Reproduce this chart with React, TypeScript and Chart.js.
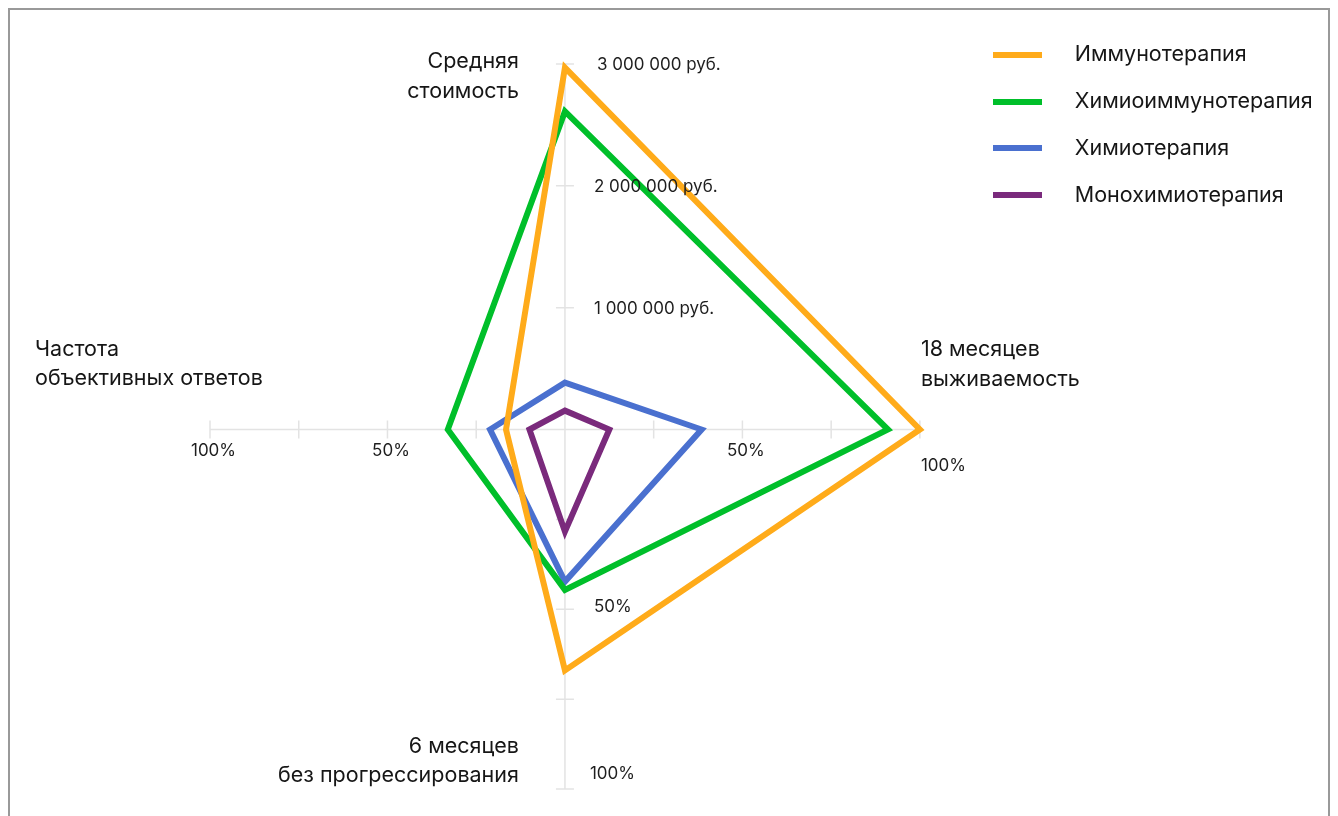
import React, { useEffect, useRef } from "react";
import { Chart, registerables } from "chart.js";

Chart.register(...registerables);

// ---------- data ----------
const seriesNames = ["Иммунотерапия", "Химиоиммунотерапия", "Химиотерапия", "Монохимиотерапия"];
const seriesColors = ["#FFAB1A", "#00BF2A", "#4A70CF", "#7A2A7C"];
const avgCostRub = [2970000, 2610000, 385000, 155000];
const survival18m = [100, 91, 38.5, 12.5];
const pfs6m = [67, 44.6, 42.3, 28.4];
const objectiveResponse = [16.6, 33, 21.1, 10];

const titleCost = ["Средняя", "стоимость"];
const titleSurvival = ["18 месяцев", "выживаемость"];
const titlePfs = ["6 месяцев", "без прогрессирования"];
const titleOrr = ["Частота", "объективных ответов"];

const percentTicks = [25, 50, 75, 100];
const percentTickLabels = ["", "50%", "", "100%"];
const costTicks = [1000000, 2000000, 3000000];
const costTickLabels = ["1 000 000 руб.", "2 000 000 руб.", "3 000 000 руб."];

const RUB_PER_UNIT = 29500;
const FONT = "Inter, 'Noto Sans', sans-serif";
const TITLE_SIZE = 21.5;
const TICK_SIZE = 17;

const decorPlugin = {
  id: "decor",
  afterDatasetsUpdate(chart: any) {
    chart.getSortedVisibleDatasetMetas().forEach((m: any) => {
      const l = m.dataset;
      if (l) {
        l._loop = true;
        l._fullLoop = true;
        delete l._segments;
        delete l._path;
      }
    });
  },
  beforeDatasetsDraw(chart: any) {
    const { ctx } = chart;
    const x = chart.scales.x;
    const y = chart.scales.y;
    const x0 = x.getPixelForValue(0);
    const y0 = y.getPixelForValue(0);
    const topV = costTicks[costTicks.length - 1] / RUB_PER_UNIT;
    ctx.save();
    ctx.strokeStyle = "#e3e3e3";
    ctx.lineWidth = 1.5;
    ctx.beginPath();
    ctx.moveTo(x.getPixelForValue(-100), y0);
    ctx.lineTo(x.getPixelForValue(100), y0);
    ctx.moveTo(x0, y.getPixelForValue(-100));
    ctx.lineTo(x0, y.getPixelForValue(topV));
    percentTicks.forEach((v) => {
      [v, -v].forEach((xv) => {
        const px = x.getPixelForValue(xv);
        ctx.moveTo(px, y0 - 9);
        ctx.lineTo(px, y0 + 9);
      });
      const py = y.getPixelForValue(-v);
      ctx.moveTo(x0 - 9, py);
      ctx.lineTo(x0 + 9, py);
    });
    costTicks.forEach((c) => {
      const py = y.getPixelForValue(c / RUB_PER_UNIT);
      ctx.moveTo(x0 - 9, py);
      ctx.lineTo(x0 + 9, py);
    });
    ctx.stroke();
    ctx.restore();
  },
  afterDatasetsDraw(chart: any) {
    const { ctx } = chart;
    const x = chart.scales.x;
    const y = chart.scales.y;
    const x0 = x.getPixelForValue(0);
    const y0 = y.getPixelForValue(0);
    const topV = costTicks[costTicks.length - 1] / RUB_PER_UNIT;
    ctx.save();
    // tick labels
    ctx.fillStyle = "#1e1e1e";
    ctx.font = `${TICK_SIZE}px ${FONT}`;
    ctx.textBaseline = "middle";
    percentTicks.forEach((v, i) => {
      const lab = percentTickLabels[i];
      if (!lab) return;
      ctx.textAlign = "center";
      ctx.fillText(lab, x.getPixelForValue(-v) + 3.5, y0 + 21);
      if (v === 100) {
        ctx.textAlign = "left";
        ctx.fillText(lab, x.getPixelForValue(v) + 1, y0 + 36);
      } else {
        ctx.textAlign = "center";
        ctx.fillText(lab, x.getPixelForValue(v) + 3.5, y0 + 21);
      }
      ctx.textAlign = "left";
      const py = y.getPixelForValue(-v);
      if (v === 100) ctx.fillText(lab, x0 + 25, py - 15);
      else ctx.fillText(lab, x0 + 29, py - 2);
    });
    costTicks.forEach((c, i) => {
      const py = y.getPixelForValue(c / RUB_PER_UNIT);
      ctx.textAlign = "left";
      ctx.fillText(costTickLabels[i], x0 + (i === costTicks.length - 1 ? 32 : 29), py + 1);
    });

    // axis titles
    ctx.fillStyle = "#161616";
    ctx.font = `${TITLE_SIZE}px ${FONT}`;
    const yTop = y.getPixelForValue(topV);
    const yBot = y.getPixelForValue(-100);
    const xR = x.getPixelForValue(100);
    const xL = x.getPixelForValue(-100);
    ctx.textAlign = "right";
    ctx.fillText(titleCost[0], x0 - 46, yTop - 2);
    ctx.fillText(titleCost[1], x0 - 46, yTop + 28);
    ctx.fillText(titlePfs[0], x0 - 46, yBot - 42);
    ctx.fillText(titlePfs[1], x0 - 46, yBot - 13);
    ctx.textAlign = "left";
    ctx.fillText(titleSurvival[0], xR + 1, y0 - 80);
    ctx.fillText(titleSurvival[1], xR + 1, y0 - 50);
    ctx.fillText(titleOrr[0], xL - 175, y0 - 80);
    ctx.fillText(titleOrr[1], xL - 175, y0 - 51);
    ctx.restore();
  },
};

export default function App() {
  const ref = useRef<HTMLCanvasElement | null>(null);

  useEffect(() => {
    document.documentElement.style.overflow = "hidden";
    const canvas = ref.current;
    if (!canvas) return;

    const icons = seriesColors.map((c) => {
      const cv = document.createElement("canvas");
      cv.width = 71;
      cv.height = 6;
      const g = cv.getContext("2d")!;
      g.fillStyle = c;
      g.fillRect(0, 0, 49, 6);
      return cv;
    });

    const m = document.createElement("canvas").getContext("2d")!;
    m.font = `normal ${TITLE_SIZE}px ${FONT}`;
    const textW = Math.max(...seriesNames.map((s) => m.measureText(s).width));
    const padRight = 243.25 - textW;

    const chart = new Chart(canvas, {
      type: "scatter",
      data: {
        datasets: seriesNames.map((name, i) => ({
          label: name,
          data: [
            { x: 0, y: avgCostRub[i] / RUB_PER_UNIT },
            { x: survival18m[i], y: 0 },
            { x: 0, y: -pfs6m[i] },
            { x: -objectiveResponse[i], y: 0 },
          ],
          showLine: true,
          borderColor: seriesColors[i],
          backgroundColor: seriesColors[i],
          borderWidth: 6,
          borderJoinStyle: "miter",
          pointRadius: 0,
          pointHoverRadius: 0,
          tension: 0,
          fill: false,
        })),
      },
      options: {
        animation: false,
        responsive: false,
        events: [],
        layout: { padding: { left: 200, top: 9, bottom: 41, right: padRight } },
        scales: {
          x: { type: "linear", min: -100, max: 113.5, display: false },
          y: { type: "linear", min: -100, max: 114.2, display: false },
        },
        plugins: {
          tooltip: { enabled: false },
          legend: {
            position: "right",
            align: "start",
            maxWidth: 600,
            labels: {
              usePointStyle: true,
              pointStyleWidth: 71,
              padding: 25.2,
              color: "#161616",
              font: { size: TITLE_SIZE, family: FONT },
              generateLabels: (ch: any) =>
                ch.data.datasets.map((ds: any, i: number) => ({
                  text: ds.label,
                  fillStyle: ds.borderColor,
                  strokeStyle: ds.borderColor,
                  lineWidth: 0,
                  pointStyle: icons[i],
                  hidden: false,
                  datasetIndex: i,
                  fontColor: "#161616",
                })),
            },
          },
        },
      } as any,
      plugins: [decorPlugin],
    });
    return () => chart.destroy();
  }, []);

  return (
    <div style={{ width: 1318, height: 820, border: "2px solid #999", background: "#fff" }}>
      <canvas ref={ref} width={1318} height={820} style={{ display: "block" }} />
    </div>
  );
}
